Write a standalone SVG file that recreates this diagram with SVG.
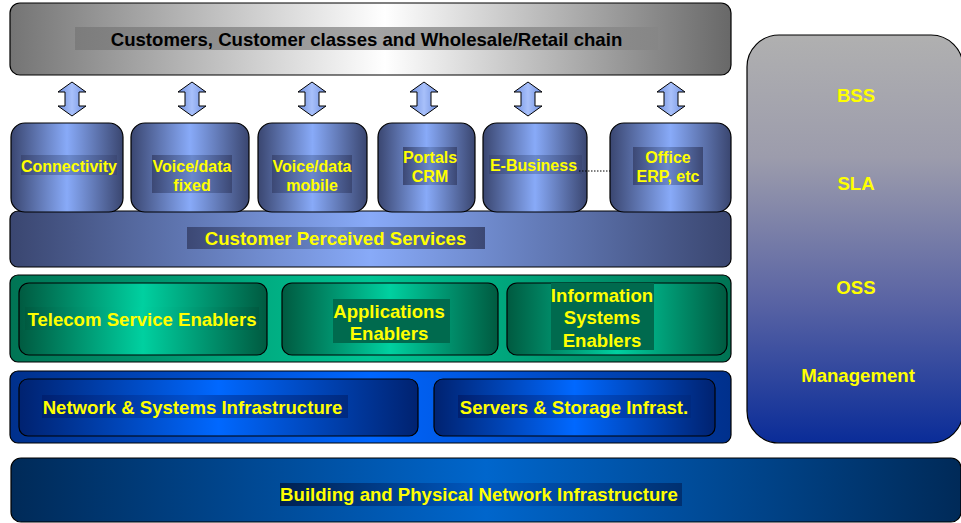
<svg xmlns="http://www.w3.org/2000/svg" xmlns:xlink="http://www.w3.org/1999/xlink" width="961" height="523" viewBox="0 0 961 523">
<defs>
<linearGradient id="gGray" x1="0" y1="0" x2="1" y2="0"><stop offset="0" stop-color="#747474"/><stop offset="0.52" stop-color="#ffffff"/><stop offset="1" stop-color="#686868"/></linearGradient>
<linearGradient id="gGrayLbl" x1="0" y1="0" x2="1" y2="0"><stop offset="0" stop-color="#7c7c7c"/><stop offset="0.5" stop-color="#a4a4a4"/><stop offset="1" stop-color="#868686"/></linearGradient>
<linearGradient id="gSlate" x1="0" y1="0" x2="1" y2="0"><stop offset="0" stop-color="#3a4670"/><stop offset="0.5" stop-color="#88aaf8"/><stop offset="1" stop-color="#3a4670"/></linearGradient>
<linearGradient id="gSlateLbl" x1="0" y1="0" x2="1" y2="0"><stop offset="0" stop-color="#3c4874"/><stop offset="0.5" stop-color="#6a88cc"/><stop offset="1" stop-color="#3c4874"/></linearGradient>
<linearGradient id="gGreenOut" x1="0" y1="0" x2="1" y2="0"><stop offset="0" stop-color="#007454"/><stop offset="0.5" stop-color="#00c494"/><stop offset="1" stop-color="#007454"/></linearGradient>
<linearGradient id="gGreenIn" x1="0" y1="0" x2="1" y2="0"><stop offset="0" stop-color="#005a40"/><stop offset="0.5" stop-color="#00d0a0"/><stop offset="1" stop-color="#005a40"/></linearGradient>
<linearGradient id="gBlueOut" x1="0" y1="0" x2="1" y2="0"><stop offset="0" stop-color="#00308c"/><stop offset="0.5" stop-color="#0066ff"/><stop offset="1" stop-color="#00308c"/></linearGradient>
<linearGradient id="gBlueIn" x1="0" y1="0" x2="1" y2="0"><stop offset="0" stop-color="#002270"/><stop offset="0.5" stop-color="#0068ff"/><stop offset="1" stop-color="#002270"/></linearGradient>
<linearGradient id="gBlueLbl" x1="0" y1="0" x2="1" y2="0"><stop offset="0" stop-color="#002070"/><stop offset="0.5" stop-color="#0050d0"/><stop offset="1" stop-color="#002a80"/></linearGradient>
<linearGradient id="gBottom" x1="0" y1="0" x2="1" y2="0"><stop offset="0" stop-color="#002a58"/><stop offset="0.5" stop-color="#0066cc"/><stop offset="1" stop-color="#002a58"/></linearGradient>
<linearGradient id="gBottomLbl" x1="0" y1="0" x2="1" y2="0"><stop offset="0" stop-color="#002050"/><stop offset="0.5" stop-color="#0058c0"/><stop offset="1" stop-color="#003070"/></linearGradient>
<linearGradient id="gRight" x1="0" y1="0" x2="0" y2="1"><stop offset="0" stop-color="#b0b0b0"/><stop offset="0.3" stop-color="#9c9cac"/><stop offset="0.65" stop-color="#5a64a4"/><stop offset="1" stop-color="#0a2c98"/></linearGradient>
<linearGradient id="gArrow" x1="0" y1="0" x2="1" y2="0"><stop offset="0" stop-color="#7090e0"/><stop offset="0.5" stop-color="#a8c0fa"/><stop offset="1" stop-color="#7090e0"/></linearGradient>
<path id="arr" d="M0,82 L14,92 L7,92 L7,106 L14,106 L0,116 L-14,106 L-7,106 L-7,92 L-14,92 Z"/>
</defs>
<style>
.box{stroke:#000;stroke-width:1.2}
.t{font-family:"Liberation Sans",Arial,sans-serif;font-weight:bold;fill:#ffff00;text-anchor:middle}
.s16{font-size:16px}
.s18{font-size:18.6px}
.dk{fill:#000}
.arrow{fill:url(#gArrow);stroke:#000;stroke-width:1}
</style>
<rect width="961" height="523" fill="#ffffff"/>

<g id="customers">
<rect class="box" x="10" y="3" width="721" height="72" rx="10" fill="url(#gGray)"/>
<rect x="75" y="27" width="583" height="23" fill="url(#gGrayLbl)"/>
<text class="t s18 dk" x="366.5" y="45.5">Customers, Customer classes and Wholesale/Retail chain</text>
</g>

<g id="cps">
<rect class="box" x="10" y="211" width="721" height="56" rx="8" fill="url(#gSlate)"/>
<rect x="187" y="227" width="298" height="22" fill="url(#gSlateLbl)"/>
<text class="t s18" x="335.5" y="244.5">Customer Perceived Services</text>
</g>

<g id="connectivity">
<rect class="box" x="11" y="123" width="112" height="89" rx="14" fill="url(#gSlate)"/>
<rect x="21" y="155" width="96" height="20" fill="url(#gSlateLbl)"/>
<text class="t s16" x="69" y="171.5">Connectivity</text>
</g>
<g id="voice-fixed">
<rect class="box" x="131" y="123" width="118" height="89" rx="14" fill="url(#gSlate)"/>
<rect x="152" y="155" width="80" height="38" fill="url(#gSlateLbl)"/>
<text class="t s16" x="192" y="171.5">Voice/data</text>
<text class="t s16" x="192" y="190.5">fixed</text>
</g>
<g id="voice-mobile">
<rect class="box" x="258" y="123" width="109" height="89" rx="14" fill="url(#gSlate)"/>
<rect x="272" y="155" width="80" height="38" fill="url(#gSlateLbl)"/>
<text class="t s16" x="312" y="171.5">Voice/data</text>
<text class="t s16" x="312" y="190.5">mobile</text>
</g>
<g id="portals">
<rect class="box" x="378" y="123" width="97" height="89" rx="14" fill="url(#gSlate)"/>
<rect x="403" y="147" width="54" height="38" fill="url(#gSlateLbl)"/>
<text class="t s16" x="430" y="162.5">Portals</text>
<text class="t s16" x="430" y="181.5">CRM</text>
</g>
<g id="ebusiness">
<rect class="box" x="483" y="123" width="104" height="89" rx="14" fill="url(#gSlate)"/>
<rect x="489" y="155" width="93" height="19" fill="url(#gSlateLbl)"/>
<text class="t s16" x="533.5" y="171">E-Business</text>
</g>
<g id="office">
<rect class="box" x="610" y="123" width="121" height="89" rx="14" fill="url(#gSlate)"/>
<rect x="633" y="147" width="70" height="38" fill="url(#gSlateLbl)"/>
<text class="t s16" x="668" y="162.5">Office</text>
<text class="t s16" x="668" y="181.5">ERP, etc</text>
</g>

<g id="enablers">
<rect class="box" x="10" y="275" width="721" height="87" rx="8" fill="url(#gGreenOut)"/>
</g>
<g id="telecom">
<rect class="box" x="19" y="283" width="248" height="72" rx="10" fill="url(#gGreenIn)"/>
<rect x="25" y="307" width="234" height="23" fill="url(#gGreenIn)"/>
<text class="t s18" x="142" y="325.5">Telecom Service Enablers</text>
</g>
<g id="applications">
<rect class="box" x="282" y="283" width="216" height="72" rx="10" fill="url(#gGreenIn)"/>
<rect x="333" y="299" width="117" height="44" fill="#006a4e"/>
<text class="t s18" x="389" y="317.5">Applications</text>
<text class="t s18" x="389" y="339.5">Enablers</text>
</g>
<g id="information">
<rect class="box" x="507" y="283" width="220" height="72" rx="10" fill="url(#gGreenIn)"/>
<rect x="551" y="283" width="103" height="67" fill="#006a4e"/>
<text class="t s18" x="602" y="301.5">Information</text>
<text class="t s18" x="602" y="324">Systems</text>
<text class="t s18" x="602" y="346.5">Enablers</text>
</g>

<g id="infrastructure">
<rect class="box" x="10" y="371" width="721" height="72" rx="8" fill="url(#gBlueOut)"/>
</g>
<g id="network">
<rect class="box" x="19" y="379" width="399" height="57" rx="9" fill="url(#gBlueIn)"/>
<rect x="42" y="395" width="306" height="23" fill="url(#gBlueLbl)"/>
<text class="t s18" x="192.5" y="413.5">Network &amp; Systems Infrastructure</text>
</g>
<g id="servers">
<rect class="box" x="434" y="379" width="281" height="57" rx="9" fill="url(#gBlueIn)"/>
<rect x="458" y="395" width="233" height="23" fill="url(#gBlueLbl)"/>
<text class="t s18" x="574" y="413.5">Servers &amp; Storage Infrast.</text>
</g>

<g id="management">
<rect class="box" x="747" y="35" width="216" height="408" rx="32" fill="url(#gRight)"/>
<text class="t s18" x="856" y="101.5">BSS</text>
<text class="t s18" x="856" y="189.5">SLA</text>
<text class="t s18" x="856" y="293.5">OSS</text>
<text class="t s18" x="858" y="381.5">Management</text>
</g>

<g id="building">
<rect class="box" x="11" y="458" width="950" height="64" rx="10" fill="url(#gBottom)"/>
<rect x="280" y="483" width="402" height="23" fill="url(#gBottomLbl)"/>
<text class="t s18" x="479" y="500.5">Building and Physical Network Infrastructure</text>
</g>

<g id="connectors">
<use xlink:href="#arr" href="#arr" class="arrow" transform="translate(72,0)"/>
<use xlink:href="#arr" href="#arr" class="arrow" transform="translate(192,0)"/>
<use xlink:href="#arr" href="#arr" class="arrow" transform="translate(312,0)"/>
<use xlink:href="#arr" href="#arr" class="arrow" transform="translate(424,0)"/>
<use xlink:href="#arr" href="#arr" class="arrow" transform="translate(528,0)"/>
<use xlink:href="#arr" href="#arr" class="arrow" transform="translate(671,0)"/>
<line x1="579" y1="171" x2="610" y2="171" stroke="#000" stroke-width="1" stroke-dasharray="1.5,1.5"/>
</g>
</svg>
